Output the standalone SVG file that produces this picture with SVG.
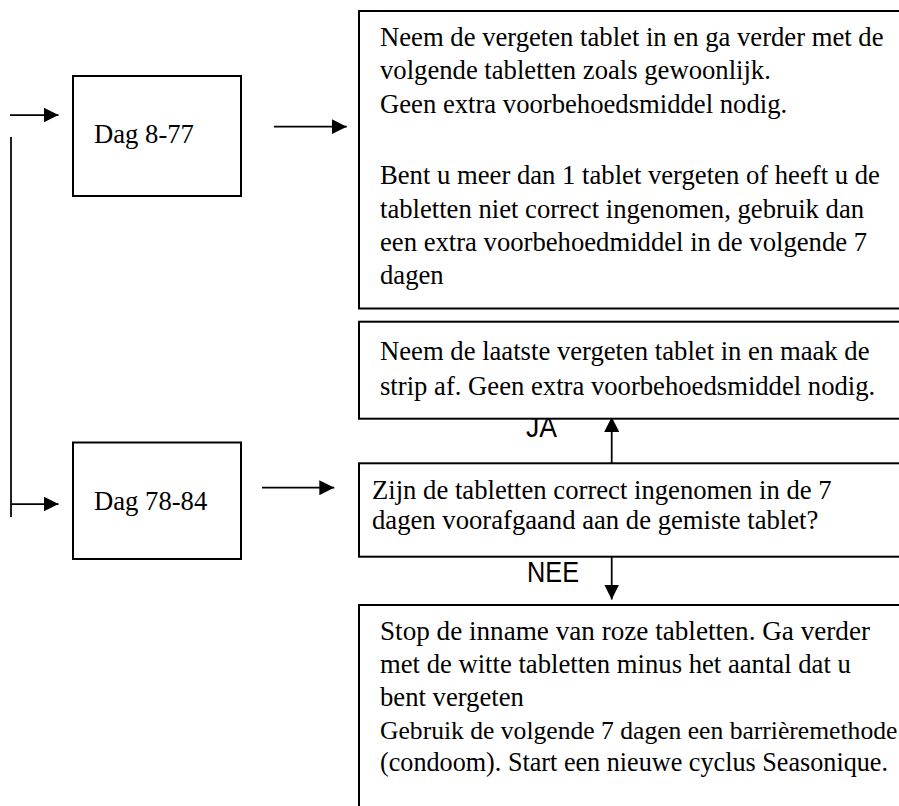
<svg xmlns="http://www.w3.org/2000/svg" width="899" height="806" viewBox="0 0 899 806">
  <style>
    .box { fill: #ffffff; stroke: #000000; stroke-width: 2; }
    .t { font-family: "Liberation Serif", "Times New Roman", serif; font-size: 26.67px; fill: #000000; }
    .lbl { font-family: "Liberation Sans", Arial, sans-serif; font-size: 30px; fill: #000000; }
    .ln { fill: none; stroke: #000000; stroke-width: 1.75; }
  </style>
  <defs>
    <marker id="ah" markerUnits="userSpaceOnUse" markerWidth="15" markerHeight="15" viewBox="0 0 15 15" refX="15" refY="7.5" orient="auto">
      <path d="M0,0 L15,7.5 L0,15 Z" fill="#000000"/>
    </marker>
  </defs>
  <rect width="899" height="806" fill="#ffffff"/>

  <g id="connectors">
    <line class="ln" x1="10" y1="115" x2="58.5" y2="115" marker-end="url(#ah)"/>
    <line class="ln" x1="274" y1="126.7" x2="346.7" y2="126.7" marker-end="url(#ah)"/>
    <line class="ln" x1="11" y1="137" x2="11" y2="517"/>
    <line class="ln" x1="11" y1="504" x2="58.5" y2="504" marker-end="url(#ah)"/>
    <line class="ln" x1="262" y1="487.7" x2="334.3" y2="487.7" marker-end="url(#ah)"/>
    <line class="ln" x1="611.7" y1="463.3" x2="611.7" y2="417" marker-end="url(#ah)"/>
    <line class="ln" x1="611.7" y1="552" x2="611.7" y2="599.5" marker-end="url(#ah)"/>
    <text class="lbl" x="526" y="437" textLength="31" lengthAdjust="spacingAndGlyphs">JA</text>
    <text class="lbl" x="527" y="581.5" textLength="52" lengthAdjust="spacingAndGlyphs">NEE</text>
  </g>

  <g id="node-dag-8-77">
    <rect class="box" x="73" y="76" width="168" height="120"/>
    <text class="t" x="94" y="143.3">Dag 8-77</text>
  </g>

  <g id="node-dag-78-84">
    <rect class="box" x="73" y="442.5" width="168" height="116.5"/>
    <text class="t" x="94" y="510">Dag 78-84</text>
  </g>

  <g id="node-vergeten">
    <rect class="box" x="359" y="11" width="570" height="297.5"/>
    <text class="t" x="380" y="45.5">Neem de vergeten tablet in en ga verder met de</text>
    <text class="t" x="380" y="79">volgende tabletten zoals gewoonlijk.</text>
    <text class="t" x="380" y="112.5">Geen extra voorbehoedsmiddel nodig.</text>
    <text class="t" x="380" y="184">Bent u meer dan 1 tablet vergeten of heeft u de</text>
    <text class="t" x="380" y="217.5">tabletten niet correct ingenomen, gebruik dan</text>
    <text class="t" x="380" y="251">een extra voorbehoedmiddel in de volgende 7</text>
    <text class="t" x="380" y="284">dagen</text>
  </g>

  <g id="node-laatste">
    <rect class="box" x="359" y="321.7" width="570" height="97"/>
    <text class="t" x="380" y="359.5">Neem de laatste vergeten tablet in en maak de</text>
    <text class="t" x="380" y="394.5">strip af. Geen extra voorbehoedsmiddel nodig.</text>
  </g>

  <g id="node-vraag">
    <rect class="box" x="359" y="463.3" width="570" height="93.4"/>
    <text class="t" x="372" y="499.3">Zijn de tabletten correct ingenomen in de 7</text>
    <text class="t" x="372" y="529.3">dagen voorafgaand aan de gemiste tablet?</text>
  </g>

  <g id="node-stop">
    <rect class="box" x="359" y="605" width="570" height="250"/>
    <text class="t" x="380" y="640" textLength="490" lengthAdjust="spacingAndGlyphs">Stop de inname van roze tabletten. Ga verder</text>
    <text class="t" x="380" y="673">met de witte tabletten minus het aantal dat u</text>
    <text class="t" x="380" y="706">bent vergeten</text>
    <text class="t" x="380" y="738.5" style="font-size:25.6px">Gebruik de volgende 7 dagen een barrièremethode</text>
    <text class="t" x="380" y="771" textLength="508" lengthAdjust="spacingAndGlyphs">(condoom). Start een nieuwe cyclus Seasonique.</text>
  </g>
</svg>
